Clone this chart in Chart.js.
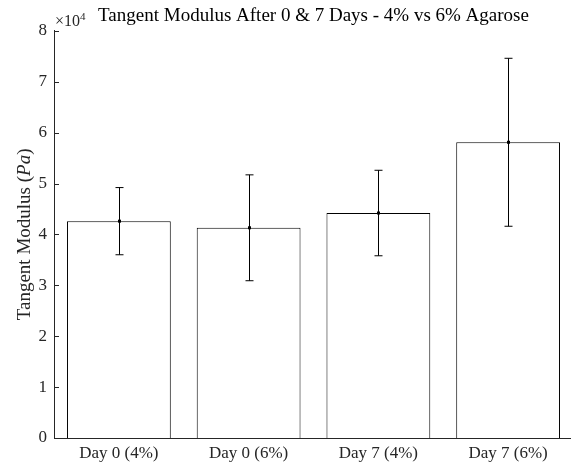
<!DOCTYPE html>
<html>
<head>
<meta charset="utf-8">
<script src="https://cdn.jsdelivr.net/npm/chart.js@4/dist/chart.umd.min.js"></script>
<style>
  html, body { margin: 0; padding: 0; background: #fff; overflow: hidden; }
  #wrap { position: relative; width: 575px; height: 463px; }
</style>
</head>
<body>
<div id="wrap"><canvas id="modulusChart"></canvas></div>
<script>
// Data (Pa)
const categories = ["Day 0 (4%)", "Day 0 (6%)", "Day 7 (4%)", "Day 7 (6%)"];
const modulusMean = [42600, 41300, 44200, 58100];
const modulusErr = [6600, 10400, 8400, 16500];
const yMax = 80000;
const yStep = 10000;
const axisColor = "#262626";
const serif = "'Liberation Serif', 'DejaVu Serif', serif";

// error bars, inward ticks, exponent and y label (MATLAB look)
const matlabBits = {
  id: "matlabBits",
  afterDatasetsDraw(chart) {
    const ctx = chart.ctx;
    const y = chart.scales.y;
    const meta = chart.getDatasetMeta(0);
    ctx.save();
    ctx.strokeStyle = "#000";
    ctx.fillStyle = "#000";
    ctx.lineWidth = 1;
    meta.data.forEach((bar, i) => {
      const x = Math.round(bar.x) + 0.5;
      const top = y.getPixelForValue(modulusMean[i] + modulusErr[i]);
      const bot = y.getPixelForValue(modulusMean[i] - modulusErr[i]);
      const mid = y.getPixelForValue(modulusMean[i]);
      ctx.beginPath();
      ctx.moveTo(x, top);
      ctx.lineTo(x, bot);
      ctx.moveTo(x - 4, top);
      ctx.lineTo(x + 4, top);
      ctx.moveTo(x - 4, bot);
      ctx.lineTo(x + 4, bot);
      ctx.stroke();
      ctx.fillRect(x - 1.5, mid - 1.5, 3, 3);
    });
    ctx.restore();
  },
  afterDraw(chart) {
    const ctx = chart.ctx;
    const area = chart.chartArea;
    const y = chart.scales.y;
    ctx.save();
    ctx.strokeStyle = axisColor;
    ctx.lineWidth = 1;
    ctx.beginPath();
    y.ticks.forEach((t) => {
      const py = Math.round(y.getPixelForValue(t.value)) + 0.5;
      ctx.moveTo(area.left, py);
      ctx.lineTo(area.left + 5, py);
    });
    ctx.stroke();

    // x10^4 multiplier
    ctx.fillStyle = axisColor;
    ctx.textBaseline = "alphabetic";
    ctx.textAlign = "left";
    ctx.font = "16px " + serif;
    ctx.fillText("\u00d710", area.left + 1, 26);
    const w = ctx.measureText("\u00d710").width;
    ctx.font = "11px " + serif;
    ctx.fillText("4", area.left + 1 + w, 20);

    // y axis label with italic unit
    const parts = [
      ["Tangent Modulus (", "19px " + serif],
      ["Pa", "italic 19px " + serif],
      [")", "19px " + serif],
    ];
    let total = 0;
    parts.forEach((p) => { ctx.font = p[1]; total += ctx.measureText(p[0]).width; });
    ctx.translate(30, (area.top + area.bottom) / 2);
    ctx.rotate(-Math.PI / 2);
    let cx = -total / 2;
    parts.forEach((p) => {
      ctx.font = p[1];
      ctx.fillText(p[0], cx, 0);
      cx += ctx.measureText(p[0]).width;
    });
    ctx.restore();
  },
};

const ctx = document.getElementById("modulusChart").getContext("2d");

new Chart(ctx, {
  type: "bar",
  data: {
    labels: categories,
    datasets: [
      {
        label: "Tangent Modulus",
        data: modulusMean,
        backgroundColor: "#ffffff",
        borderColor: "#000000",
        borderWidth: 1,
        barPercentage: 0.8,
        categoryPercentage: 1,
      },
    ],
  },
  options: {
    responsive: true,
    maintainAspectRatio: false,
    animation: false,
    layout: {
      padding: { top: 0, right: 2, bottom: 0, left: 0 },
    },
    plugins: {
      legend: { display: false },
      tooltip: { enabled: false },
      title: {
        display: true,
        fullSize: false,
        text: "Tangent Modulus After 0 & 7 Days - 4% vs 6% Agarose",
        color: "#000",
        font: { family: serif, size: 19, weight: "normal" },
        padding: { top: 5, bottom: 3 },
      },
    },
    scales: {
      x: {
        grid: { display: false, drawTicks: false },
        border: { display: true, color: axisColor, width: 1 },
        ticks: {
          color: axisColor,
          padding: 5,
          font: { family: serif, size: 17 },
        },
        afterFit(scale) { scale.height = 25; },
      },
      y: {
        min: 0,
        max: yMax,
        grid: { display: false, drawTicks: false },
        border: { display: true, color: axisColor, width: 1 },
        ticks: {
          stepSize: yStep,
          color: axisColor,
          padding: 7,
          font: { family: serif, size: 17 },
          callback: (v) => v / 10000,
        },
        afterFit(scale) { scale.width = 54; },
      },
    },
  },
  plugins: [matlabBits],
});
</script>
</body>
</html>
